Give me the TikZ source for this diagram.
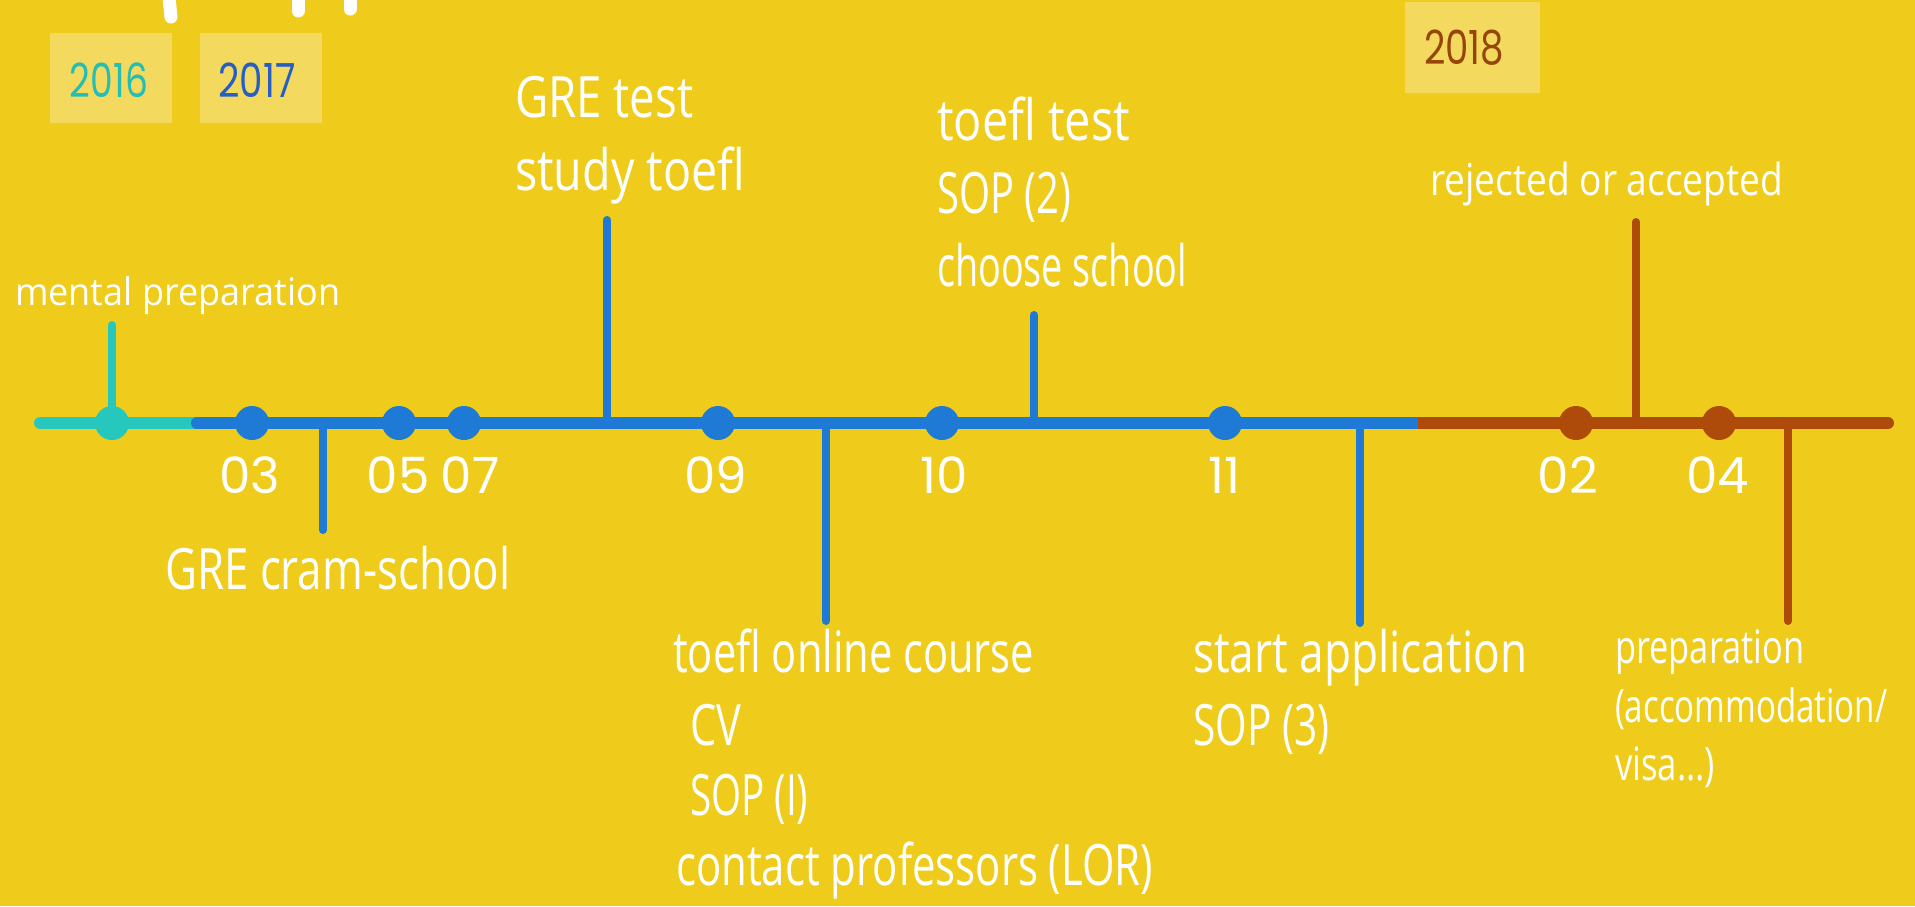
\documentclass[tikz,border=0pt]{standalone}
\usepackage{fontspec}
\usepackage{graphicx}
\setmainfont{Open Sans}
\newfontfamily\handfont{Open Sans}
\newfontfamily\numfont{Poppins}
\definecolor{bgc}{RGB}{239,204,27}
\definecolor{boxc}{RGB}{243,218,95}
\definecolor{tealc}{RGB}{38,200,190}
\definecolor{bluec}{RGB}{30,122,212}
\definecolor{brownc}{RGB}{174,74,10}
\definecolor{y16c}{RGB}{35,190,180}
\definecolor{y17c}{RGB}{38,94,196}
\definecolor{y18c}{RGB}{150,70,10}
\newcommand\fitw[2]{\resizebox{#1}{\height}{#2}}
\tikzset{
  bigl/.style={anchor=base west, inner sep=0pt, text=white, font=\handfont\fontsize{57}{68}\selectfont},
  midl/.style={anchor=base west, inner sep=0pt, text=white, font=\handfont\fontsize{44}{52}\selectfont},
  prepl/.style={anchor=base west, inner sep=0pt, text=white, font=\handfont\fontsize{46}{55}\selectfont},
  smalll/.style={anchor=base west, inner sep=0pt, text=white, font=\handfont\fontsize{38}{46}\selectfont},
  numl/.style={anchor=base, inner sep=0pt, text=white, font=\numfont\fontsize{50}{60}\selectfont},
  yeartext/.style={inner sep=0pt, font=\numfont\fontsize{47}{56}\selectfont},
  yearbox/.style={fill=boxc, draw=none, inner sep=0pt},
  tickline/.style={line width=8pt, line cap=round},
  axisline/.style={line width=12pt, line cap=round},
  dotc/.style={circle, inner sep=0pt, minimum size=34pt},
  titlefrag/.style={white, line width=13pt, line cap=round}
}
\begin{document}
\begin{tikzpicture}[x=1pt,y=-1pt]
\useasboundingbox (0,0) rectangle (1915,906);
\fill[bgc] (0,0) rectangle (1915,906);

% fragments of the cut-off title
\coordinate (f1a) at (168,-12); \coordinate (f1b) at (171,17);
\coordinate (f2a) at (298,-12); \coordinate (f2b) at (298,11);
\coordinate (f3a) at (350,-12); \coordinate (f3b) at (350,9);
\draw[titlefrag] (f1a) -- (f1b);
\draw[titlefrag] (f2a) -- (f2b);
\draw[titlefrag] (f3a) -- (f3b);

% year boxes
\node[yearbox, minimum width=122pt, minimum height=90pt] (b16) at (111,78) {};
\node[yeartext, text=y16c] (y16) at (109,80) {\fitw{78pt}{2016}};
\node[yearbox, minimum width=122pt, minimum height=90pt] (b17) at (261,78) {};
\node[yeartext, text=y17c] (y17) at (257,80) {\fitw{77pt}{2017}};
\node[yearbox, minimum width=135pt, minimum height=91pt] (b18) at (1472.5,47.5) {};
\node[yeartext, text=y18c] (y18) at (1464,48) {\fitw{80pt}{2018}};

% axis coordinates
\coordinate (a0) at (40,423);
\coordinate (a1) at (197,423);
\coordinate (a2) at (1418,423);
\coordinate (a3) at (1888,423);

% tick coordinates
\coordinate (tm) at (112,423);   \coordinate (tmE) at (112,325);
\coordinate (tc) at (323,423);   \coordinate (tcE) at (323,530);
\coordinate (tg) at (607,423);   \coordinate (tgE) at (607,220);
\coordinate (to) at (826,423);   \coordinate (toE) at (826,621);
\coordinate (tt) at (1034,423);  \coordinate (ttE) at (1034,315);
\coordinate (ts) at (1360,423);  \coordinate (tsE) at (1360,623);
\coordinate (tr) at (1636,423);  \coordinate (trE) at (1636,222);
\coordinate (tp) at (1788,423);  \coordinate (tpE) at (1788,621);

\draw[tickline, tealc]  (tm) -- (tmE);
\draw[tickline, bluec]  (tc) -- (tcE);
\draw[tickline, bluec]  (tg) -- (tgE);
\draw[tickline, bluec]  (to) -- (toE);
\draw[tickline, bluec]  (tt) -- (ttE);
\draw[tickline, bluec]  (ts) -- (tsE);
\draw[tickline, brownc] (tr) -- (trE);
\draw[tickline, brownc] (tp) -- (tpE);

% axis
\draw[axisline, tealc] (a0) -- (a1);
\draw[axisline, brownc] (a2) -- (a3);
\draw[axisline, bluec, line cap=butt] (a1) -- (a2);
\fill[bluec] (a1) circle (6pt);

% dots
\node[dotc, fill=tealc]  (d16) at (112,423) {};
\node[dotc, fill=bluec]  (d03) at (252,423) {};
\node[dotc, fill=bluec]  (d05) at (399,423) {};
\node[dotc, fill=bluec]  (d07) at (464,423) {};
\node[dotc, fill=bluec]  (d09) at (718,423) {};
\node[dotc, fill=bluec]  (d10) at (942,423) {};
\node[dotc, fill=bluec]  (d11) at (1225,423) {};
\node[dotc, fill=brownc] (d02) at (1576,423) {};
\node[dotc, fill=brownc] (d04) at (1719,423) {};

% month labels
\node[numl] (m03) at (250,493) {03};
\node[numl] (m05) at (398,493) {05};
\node[numl] (m07) at (470,493) {07};
\node[numl] (m09) at (716,493) {09};
\node[numl] (m10) at (944,493) {10};
\node[numl] (m11) at (1224,493) {11};
\node[numl] (m02) at (1568,493) {02};
\node[numl] (m04) at (1718,493) {04};

% event labels
\node[smalll] (lmental) at (15,305) {\fitw{325pt}{mental preparation}};
\node[bigl] (lgre1) at (515,117) {\fitw{178pt}{GRE test}};
\node[bigl] (lgre2) at (515,190) {\fitw{230pt}{study toefl}};
\node[bigl] (ltt1) at (937,140) {\fitw{193pt}{toefl test}};
\node[bigl] (ltt2) at (937,213) {\fitw{134pt}{SOP (2)}};
\node[bigl] (ltt3) at (937,286) {\fitw{250pt}{choose school}};
\node[midl] (lrej) at (1430,195) {\fitw{353pt}{rejected or accepted}};
\node[bigl] (lcram) at (165,589) {\fitw{345pt}{GRE cram-school}};
\node[bigl] (lon1) at (673,672) {\fitw{361pt}{toefl online course}};
\node[bigl] (lon2) at (690,745) {\fitw{51pt}{CV}};
\node[bigl] (lon3) at (690,815) {\fitw{118pt}{SOP (I)}};
\node[bigl] (lon4) at (676,885) {\fitw{477pt}{contact professors (LOR)}};
\node[bigl] (lst1) at (1193,672) {\fitw{334pt}{start application}};
\node[bigl] (lst2) at (1193,745) {\fitw{136pt}{SOP (3)}};
\node[prepl] (lpr1) at (1615,663) {\fitw{189pt}{preparation}};
\node[prepl] (lpr2) at (1615,722) {\fitw{272pt}{(accommodation/}};
\node[prepl] (lpr3) at (1615,780) {\fitw{100pt}{visa...)}};
\end{tikzpicture}
\end{document}
